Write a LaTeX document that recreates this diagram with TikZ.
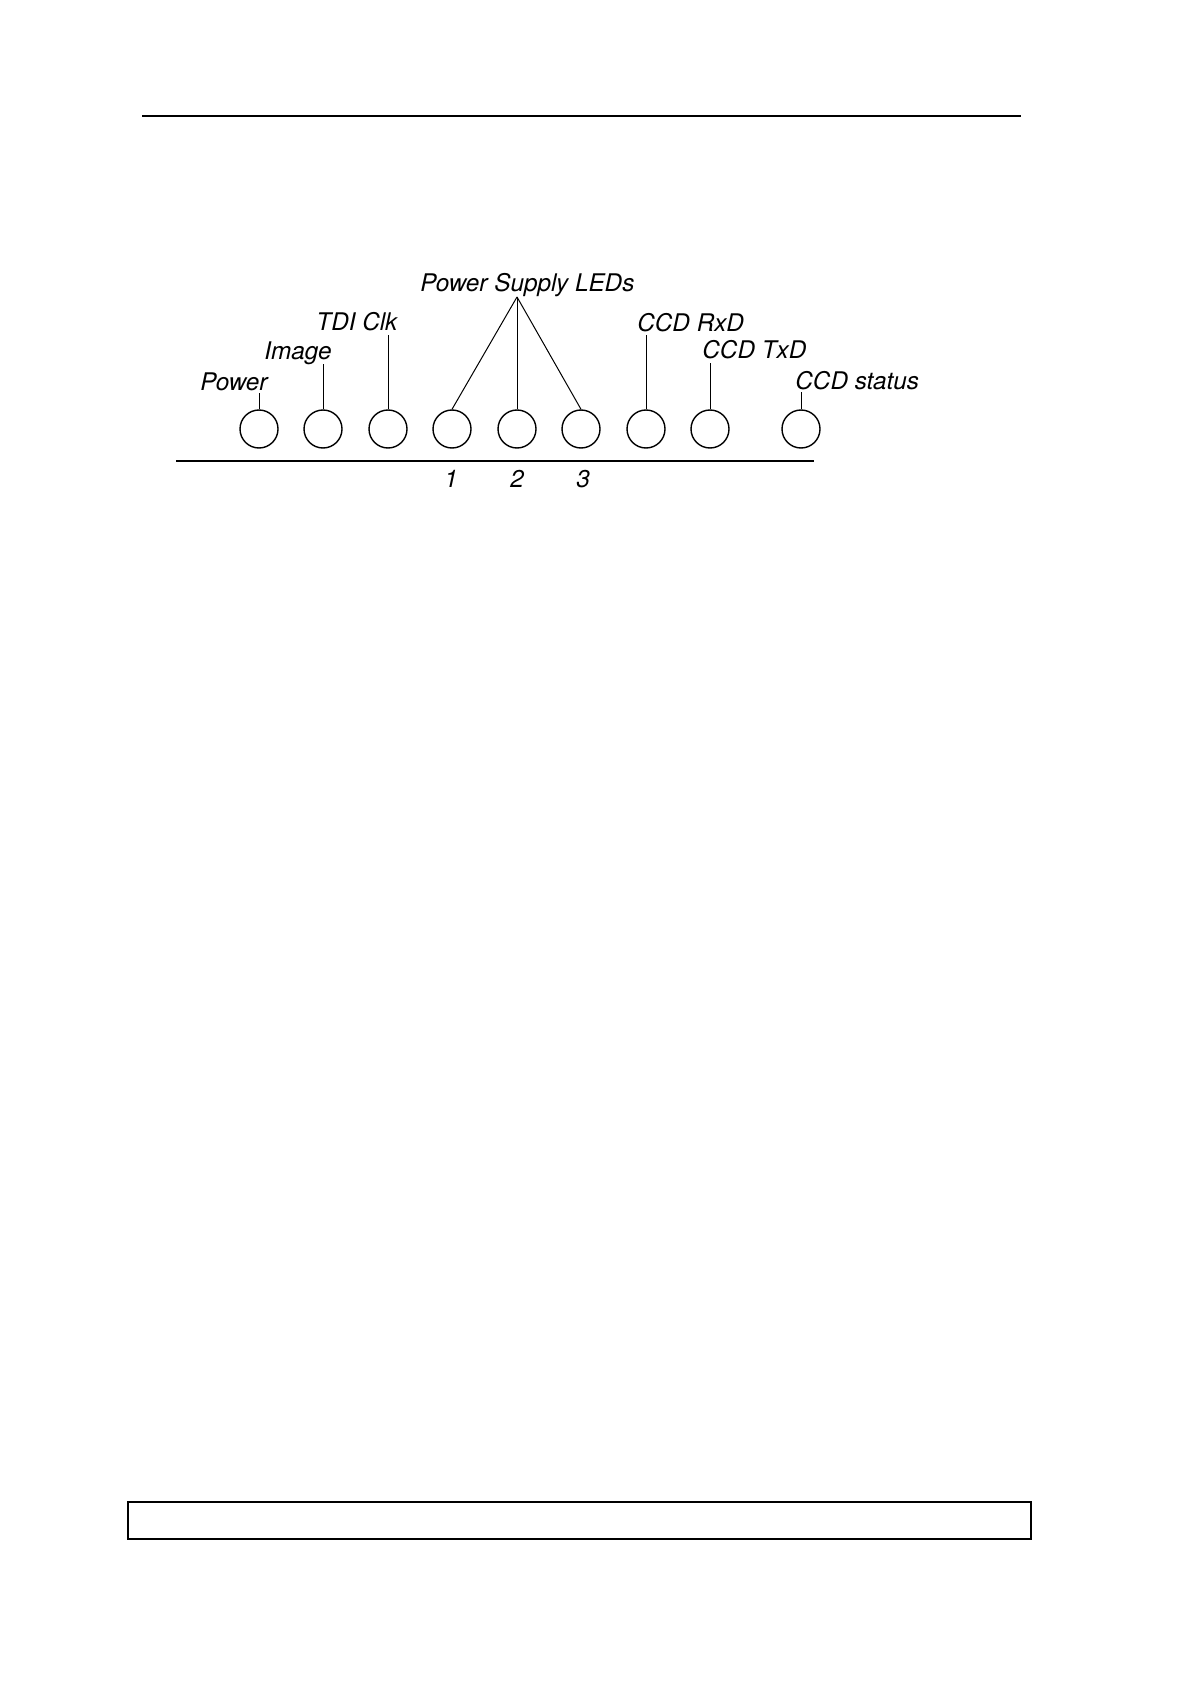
\documentclass[tikz,border=0pt]{standalone}
\usepackage{fontspec}
\setmainfont{TeX Gyre Heros}
\begin{document}
\begin{tikzpicture}[x=0.5pt,y=-0.5pt,
  led/.style={draw, circle, line width=0.7pt, minimum size=19pt, inner sep=0pt},
  lbl/.style={anchor=base west, inner sep=0pt, font=\fontsize{12.15}{14}\selectfont\itshape},
  num/.style={anchor=base, inner sep=0pt, font=\fontsize{12.15}{14}\selectfont\itshape},
  stub/.style={line width=0.5pt},
  rule/.style={line width=0.9pt}]
\useasboundingbox (0,0) rectangle (1190,1684);
% header rule
\coordinate (hl) at (142,116);
\coordinate (hr) at (1021,116);
\draw[rule] (hl) -- (hr);
% LEDs
\node[led] (c1) at (259,429) {};
\node[led] (c2) at (323,429) {};
\node[led] (c3) at (388,429) {};
\node[led] (c4) at (452,429) {};
\node[led] (c5) at (517,429) {};
\node[led] (c6) at (581,429) {};
\node[led] (c7) at (646,429) {};
\node[led] (c8) at (710,429) {};
\node[led] (c9) at (801,429) {};
% base line
\coordinate (bl) at (176,461);
\coordinate (br) at (814,461);
\draw[rule] (bl) -- (br);
% labels
\node[lbl] (lpw) at (200,391) {Power};
\node[lbl] (lim) at (264,360) {Image};
\node[lbl] (ltdi) at (316,331) {TDI Clk};
\node[lbl] (lps) at (420,291.5) {Power Supply LEDs};
\node[lbl] (lrx) at (637,331.5) {CCD RxD};
\node[lbl] (ltx) at (702,359) {CCD TxD};
\node[lbl] (lst) at (795,390) {CCD status};
\node[num] (n1) at (451,487.5) {1};
\node[num] (n2) at (517,487.5) {2};
\node[num] (n3) at (583,487.5) {3};
% stubs
\draw[stub] (c1.north) -- (c1.north |- 0,393);
\draw[stub] (c2.north) -- (c2.north |- 0,364);
\draw[stub] (c3.north) -- (c3.north |- 0,335);
\draw[stub] (c7.north) -- (c7.north |- 0,335);
\draw[stub] (c8.north) -- (c8.north |- 0,363);
\draw[stub] (c9.north) -- (c9.north |- 0,392);
% power supply fan
\coordinate (apex) at (517,297);
\draw[stub] (apex) -- (c4.north);
\draw[stub] (apex) -- (c5.north);
\draw[stub] (apex) -- (c6.north);
% footer box
\node[draw, line width=0.7pt, minimum width=451.5pt, minimum height=18.5pt, inner sep=0pt] (foot) at (579.5,1520.5) {};
\end{tikzpicture}
\end{document}
